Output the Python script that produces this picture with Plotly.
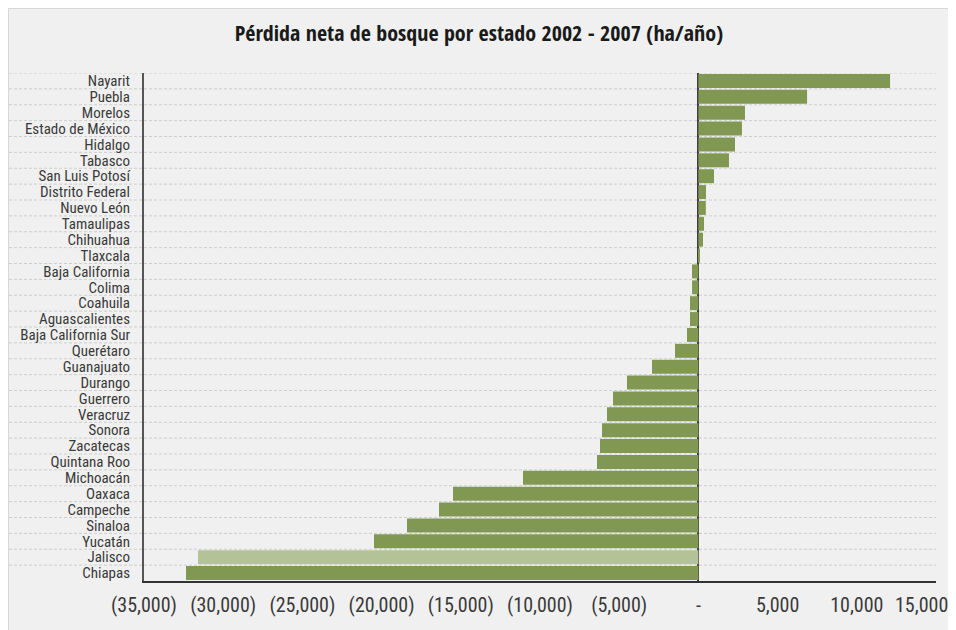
import plotly.graph_objects as go

# ---------------- data ----------------
estados = [
    "Nayarit", "Puebla", "Morelos", "Estado de México", "Hidalgo", "Tabasco",
    "San Luis Potosí", "Distrito Federal", "Nuevo León", "Tamaulipas",
    "Chihuahua", "Tlaxcala", "Baja California", "Colima", "Coahuila",
    "Aguascalientes", "Baja California Sur", "Querétaro", "Guanajuato",
    "Durango", "Guerrero", "Veracruz", "Sonora", "Zacatecas", "Quintana Roo",
    "Michoacán", "Oaxaca", "Campeche", "Sinaloa", "Yucatán", "Jalisco", "Chiapas",
]
perdida_neta = [
    12100, 6860, 2940, 2750, 2310, 1930,
    985, 480, 470, 354,
    290, 80, -404, -400, -530,
    -530, -720, -1477, -2929,
    -4508, -5391, -5770, -6086, -6212, -6402,
    -11073, -15492, -16376, -18396, -20480, -31591, -32348,
]
destacado = "Jalisco"
x_ticks = [-35000, -30000, -25000, -20000, -15000, -10000, -5000, 0, 5000, 10000, 15000]
titulo = "Pérdida neta de bosque por estado 2002 - 2007 (ha/año)"


def fmt(v):
    if v == 0:
        return "-"
    if v < 0:
        return "({:,})".format(-v)
    return "{:,}".format(v)


x_ticktext = [fmt(v) for v in x_ticks]
# the right-most label is placed as an annotation anchored at its tick so it stays
# inside the frame (it is pushed left in the original, as Excel does)
ultimo_texto = x_ticktext[-1]
x_ticktext[-1] = ""

# ---------------- style ----------------
OFF = 8                      # page offset of the figure (body margin)
W, H = 956 - OFF, 630 - OFF
ML, MT = 144 - OFF, 73 - OFF
MR = W - (936 - OFF)
MB = H - (581 - OFF)
PW, PH = W - ML - MR, H - MT - MB
FONT = "Roboto Condensed, Roboto, sans-serif"
TFONT = "Open Sans Condensed, Roboto Condensed, sans-serif"
BG = "#eff0ef"
GREEN = "#819852"
LIGHT = "#b3c397"
TICKCOL = "#3a3a3a"


def px_x(p):
    return (p - OFF - ML) / PW


def px_y(p):
    return (H - MB - (p - OFF)) / PH


colors = [LIGHT if e == destacado else GREEN for e in estados]

fig = go.Figure(
    go.Bar(
        x=perdida_neta,
        y=estados,
        orientation="h",
        marker=dict(color=colors, line=dict(width=0)),
        hoverinfo="x+y",
    )
)

shapes = []
shapes.append(dict(type="rect", xref="paper", yref="paper",
                   x0=px_x(8.5), x1=px_x(990), y0=px_y(660), y1=px_y(8.5),
                   line=dict(color="#d6d8d6", width=1), fillcolor="rgba(0,0,0,0)",
                   layer="below"))
for k in range(len(estados)):
    shapes.append(dict(type="line", xref="paper", yref="y",
                       x0=px_x(9), x1=1, y0=k - 0.5, y1=k - 0.5,
                       line=dict(color="#cdcecd", width=1, dash="3px,2px"),
                       layer="below"))

fig.update_layout(
    width=W, height=H,
    margin=dict(l=ML, r=MR, t=MT, b=MB, pad=0, autoexpand=False),
    paper_bgcolor=BG, plot_bgcolor=BG,
    font=dict(family=FONT, color=TICKCOL),
    title=dict(text=titulo, x=(479 - OFF) / W, xref="container", xanchor="center",
               y=1 - (33 - OFF) / H, yref="container", yanchor="middle",
               font=dict(family=TFONT, size=22, weight=700, color="#1a1a1a")),
    bargap=0.12,
    showlegend=False,
    shapes=shapes,
    annotations=[dict(x=x_ticks[-1], xref="x", xanchor="right", xshift=14,
                      y=px_y(605), yref="paper", yanchor="middle",
                      text=ultimo_texto, showarrow=False,
                      font=dict(family=FONT, size=20, color=TICKCOL))],
)
fig.update_xaxes(
    range=[x_ticks[0], x_ticks[-1] + 0.01],
    tickvals=x_ticks, ticktext=x_ticktext, tickangle=0,
    tickfont=dict(family=FONT, size=20, color=TICKCOL),
    showgrid=False, automargin=False,
    zeroline=True, zerolinecolor="#404040", zerolinewidth=2,
    showline=True, linecolor="#333333", linewidth=1.5,
    ticks="", ticklabelstandoff=5,
)
fig.update_yaxes(
    type="category",
    tickmode="array", tickvals=estados, ticktext=estados,
    range=[len(estados) - 0.5, -0.5],
    tickfont=dict(family=FONT, size=15, color=TICKCOL),
    showgrid=False, zeroline=False, automargin=False,
    showline=True, linecolor="#555555", linewidth=2,
    ticks="", ticklabelstandoff=9,
)

fig.write_html("out.html")
